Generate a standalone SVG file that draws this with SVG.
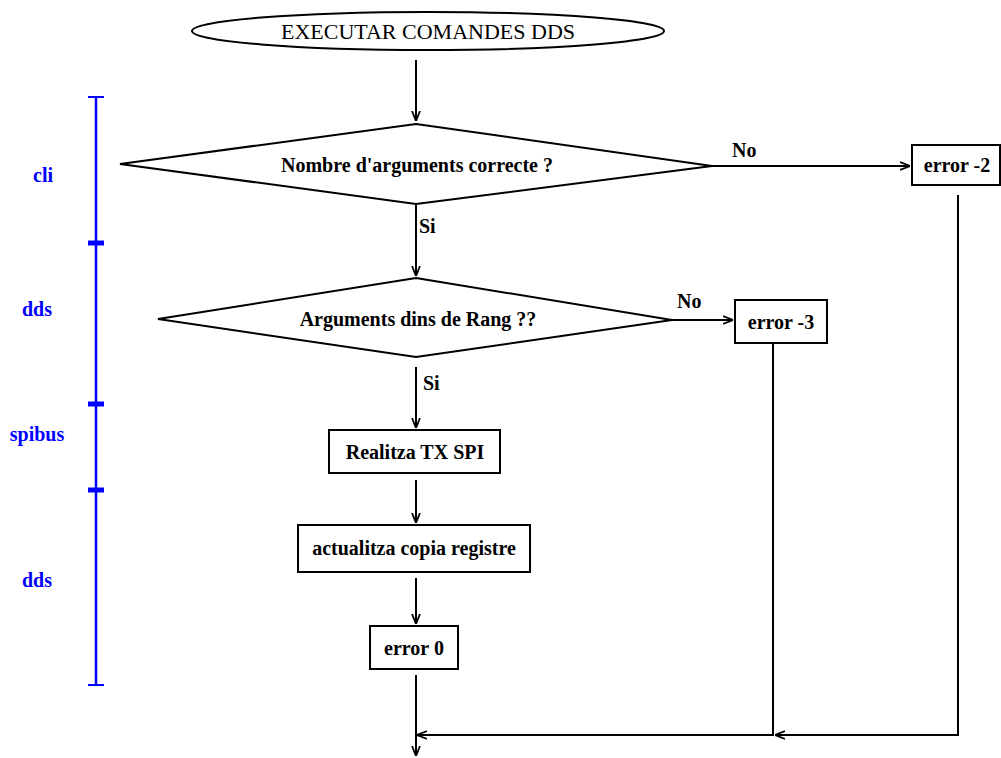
<svg xmlns="http://www.w3.org/2000/svg" width="1001" height="758" viewBox="0 0 1001 758">
  <style>
    .shape { fill: #ffffff; stroke: #000000; stroke-width: 2; }
    .wire { fill: none; stroke: #000000; stroke-width: 2; }
    .lbl { font-family: "Liberation Serif", "Times New Roman", serif; font-size: 20px; font-weight: bold; fill: #000000; text-anchor: middle; dominant-baseline: central; }
    .title { font-family: "Liberation Serif", "Times New Roman", serif; font-size: 22px; fill: #000000; text-anchor: middle; dominant-baseline: central; }
    .edge { font-family: "Liberation Serif", "Times New Roman", serif; font-size: 20px; font-weight: bold; fill: #000000; }
    .lane { stroke: #0000ff; stroke-width: 2.5; fill: none; }
    .lanecap { stroke: #0000ff; stroke-width: 2; }
    .lanetick { stroke: #0000ff; stroke-width: 5; }
    .lanelbl { font-family: "Liberation Serif", "Times New Roman", serif; font-size: 20px; font-weight: bold; fill: #0000ff; text-anchor: middle; dominant-baseline: central; }
  </style>
  <defs>
    <marker id="arrow" viewBox="0 0 10 10" refX="10" refY="5" markerWidth="10" markerHeight="10" markerUnits="userSpaceOnUse" orient="auto">
      <path d="M0,1 L10,5 L0,9" fill="none" stroke="#000000" stroke-width="1.8"/>
    </marker>
  </defs>

  <rect width="1001" height="758" fill="#ffffff"/>

  <!-- layer bar on the left -->
  <g id="layers">
    <line class="lane" x1="96" y1="97" x2="96" y2="685"/>
    <line class="lanecap" x1="88" y1="97" x2="104" y2="97"/>
    <line class="lanetick" x1="88" y1="243" x2="104" y2="243"/>
    <line class="lanetick" x1="88" y1="404" x2="104" y2="404"/>
    <line class="lanetick" x1="88" y1="490" x2="104" y2="490"/>
    <line class="lanecap" x1="88" y1="685" x2="104" y2="685"/>
    <text class="lanelbl" x="43" y="175">cli</text>
    <text class="lanelbl" x="37" y="309">dds</text>
    <text class="lanelbl" x="37" y="434">spibus</text>
    <text class="lanelbl" x="37" y="580">dds</text>
  </g>

  <!-- connectors -->
  <g id="connectors">
    <line class="wire" x1="416" y1="60" x2="416" y2="121" marker-end="url(#arrow)"/>
    <line class="wire" x1="712" y1="166" x2="910" y2="166" marker-end="url(#arrow)"/>
    <text class="edge" x="732" y="157">No</text>
    <line class="wire" x1="416" y1="204" x2="416" y2="276" marker-end="url(#arrow)"/>
    <text class="edge" x="419" y="233">Si</text>
    <line class="wire" x1="672" y1="320" x2="733" y2="320" marker-end="url(#arrow)"/>
    <text class="edge" x="677" y="308">No</text>
    <line class="wire" x1="416" y1="367" x2="416" y2="428" marker-end="url(#arrow)"/>
    <text class="edge" x="423" y="390">Si</text>
    <line class="wire" x1="416" y1="480" x2="416" y2="523" marker-end="url(#arrow)"/>
    <line class="wire" x1="416" y1="578" x2="416" y2="624" marker-end="url(#arrow)"/>
    <line class="wire" x1="416" y1="675" x2="416" y2="756" marker-end="url(#arrow)"/>
    <polyline class="wire" points="958,195 958,735 775,735" marker-end="url(#arrow)"/>
    <polyline class="wire" points="773,343 773,735 417,735" marker-end="url(#arrow)"/>
  </g>

  <g id="start">
    <ellipse class="shape" cx="428" cy="31" rx="236" ry="19"/>
    <text class="title" x="428" y="31">EXECUTAR COMANDES DDS</text>
  </g>

  <g id="check-args">
    <polygon class="shape" points="416,124 712,166 416,204 120,164"/>
    <text class="lbl" x="417" y="165">Nombre d'arguments correcte ?</text>
  </g>

  <g id="error-2">
    <rect class="shape" x="912" y="145" width="88" height="40"/>
    <text class="lbl" x="957" y="165">error -2</text>
  </g>

  <g id="check-range">
    <polygon class="shape" points="416,278 672,320 416,357 158,319"/>
    <text class="lbl" x="418" y="319">Arguments dins de Rang ??</text>
  </g>

  <g id="error-3">
    <rect class="shape" x="735" y="300" width="92" height="43"/>
    <text class="lbl" x="781" y="322">error -3</text>
  </g>

  <g id="spi-tx">
    <rect class="shape" x="329" y="430" width="171" height="43"/>
    <text class="lbl" x="415" y="452">Realitza TX SPI</text>
  </g>

  <g id="update-copy">
    <rect class="shape" x="298" y="525" width="232" height="47"/>
    <text class="lbl" x="414" y="548">actualitza copia registre</text>
  </g>

  <g id="error-0">
    <rect class="shape" x="370" y="626" width="88" height="43"/>
    <text class="lbl" x="414" y="648">error 0</text>
  </g>
</svg>
